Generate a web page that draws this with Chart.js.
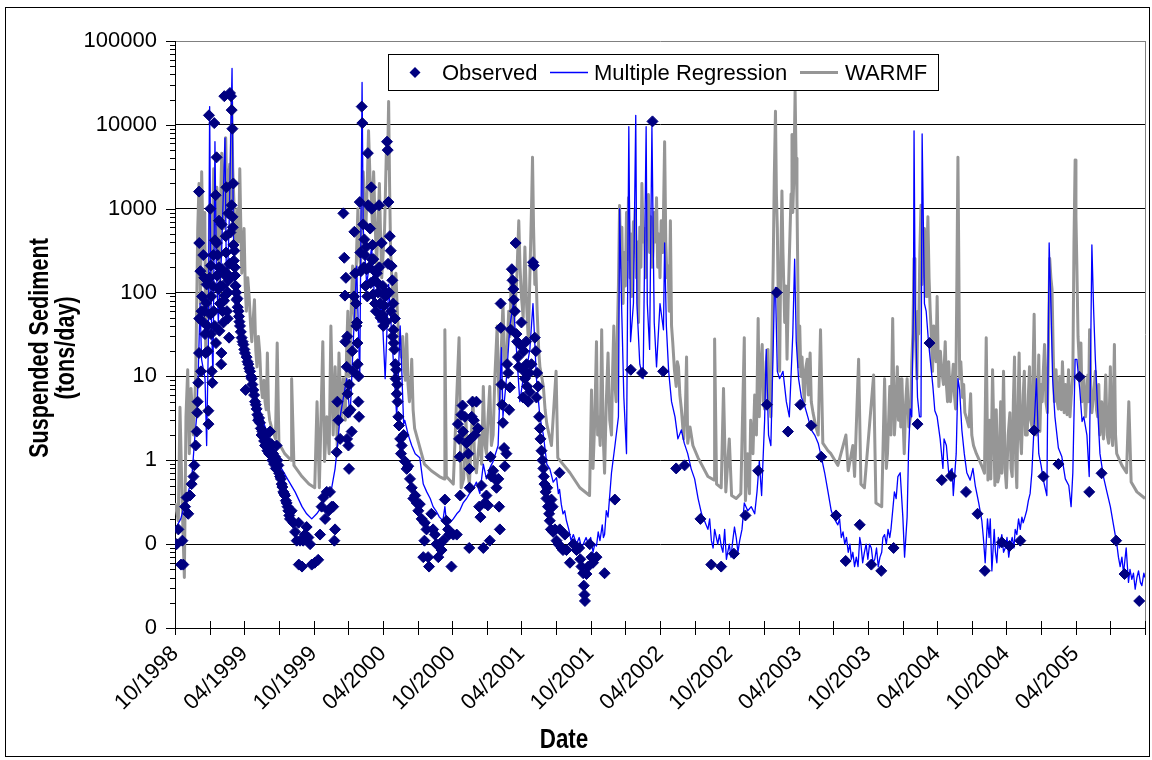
<!DOCTYPE html>
<html>
<head>
<meta charset="utf-8">
<script src="https://cdn.jsdelivr.net/npm/chart.js@4.4.0/dist/chart.umd.min.js"></script>
<style>
  html, body { margin: 0; padding: 0; background: #fff; }
  #wrap { width: 1152px; height: 760px; }
</style>
</head>
<body>
<div id="wrap"><canvas id="chartSed" width="1152" height="760"></canvas></div>
<script>
// x = months since 10/1998, y = suspended sediment (tons/day)
const observed = [
  [0.14,0.1],[0.29,0.15],[0.52,0.057],[0.64,0.11],[0.72,0.057],[0.87,0.28],[1.0,0.36],[1.15,0.23],[1.3,0.38],[1.44,0.52],
  [1.6,0.64],[1.67,0.87],[1.79,1.5],[1.88,2.2],[1.93,3.7],[1.96,5],[2.02,8.4],[2.08,19],[2.1,49],[2.08,1600],[2.1,390],
  [2.2,180],[2.25,11.5],[2.3,60],[2.35,90],[2.4,45],[2.45,280],[2.54,150],[2.55,60],[2.6,32],[2.66,19],[2.7,75],[2.74,125],
  [2.8,40],[2.85,20],[2.89,3.9],[2.9,2.7],[2.94,13000],[3.0,150],[3.05,55],[3.06,1000],[3.1,210],[3.12,32],[3.15,90],
  [3.18,11.5],[3.23,8.4],[3.28,120],[3.32,280],[3.35,60],[3.4,10500],[3.45,40],[3.46,420],[3.52,1450],[3.55,25],[3.6,4100],
  [3.62,390],[3.65,160],[3.7,280],[3.75,110],[3.8,200],[3.81,720],[3.85,35],[3.9,74],[3.95,120],[4.0,14],[4.02,19],[4.04,650],
  [4.1,190],[4.12,60],[4.15,120],[4.19,44],[4.25,80],[4.27,22000],[4.33,92],[4.35,160],[4.39,470],[4.42,300],[4.45,1800],
  [4.47,170],[4.5,60],[4.56,49],[4.58,100],[4.62,880],[4.65,140],[4.68,29],[4.72,220],[4.76,24000],[4.8,520],[4.85,22000],
  [4.9,1100],[4.91,15000],[4.97,9000],[4.98,800],[5.0,600],[5.05,2000],[5.06,370],[5.1,240],[5.14,316],[5.18,200],[5.2,160],
  [5.25,120],[5.3,100],[5.34,82],[5.4,85],[5.43,67],[5.5,60],[5.54,52],[5.58,45],[5.63,40],[5.7,34],[5.77,29],[5.85,26],
  [5.92,24],[6.0,21],[6.06,19],[6.12,6.9],[6.2,17],[6.28,15],[6.35,14],[6.42,12.5],[6.5,11.5],[6.57,10],[6.64,9.4],[6.7,8],
  [6.78,6.9],[6.85,6],[6.93,5],[7.0,4.6],[7.07,4.1],[7.14,3.5],[7.2,3],[7.28,3.2],[7.36,2.8],[7.43,2.4],[7.5,2],[7.57,2.2],
  [7.65,1.9],[7.72,1.7],[7.8,1.5],[7.87,1.8],[7.94,1.6],[8.0,1.3],[8.08,1.4],[8.15,1.2],[8.23,2.2],[8.3,1.3],[8.37,1.55],
  [8.43,1.0],[8.5,1.2],[8.58,0.9],[8.66,1.1],[8.73,0.8],[8.8,1.5],[8.87,1.0],[8.95,0.87],[9.02,0.7],[9.1,0.64],[9.17,0.6],
  [9.24,0.52],[9.3,0.48],[9.38,0.42],[9.45,0.4],[9.53,0.38],[9.6,0.33],[9.67,0.31],[9.75,0.28],[9.82,0.25],[9.9,0.22],
  [9.96,0.2],[10.1,0.25],[10.25,0.18],[10.4,0.14],[10.54,0.11],[10.7,0.18],[10.72,0.057],[10.83,0.11],[11.0,0.054],[11.1,0.11],
  [11.25,0.13],[11.4,0.16],[11.55,0.12],[11.7,0.1],[11.84,0.057],[12.1,0.06],[12.4,0.065],[12.56,0.13],[12.7,0.28],[12.85,0.36],
  [13.0,0.2],[13.14,0.42],[13.3,0.25],[13.42,0.42],[13.57,0.28],[13.7,0.28],[13.8,0.11],[13.86,0.15],[14.0,1.25],[14.06,5],
  [14.15,3],[14.3,1.8],[14.58,880],[14.66,260],[14.72,92],[14.75,26],[14.8,150],[14.87,13],[14.9,1.8],[14.92,30],[14.95,6.2],
  [15.0,3.7],[15.02,1.5],[15.07,0.79],[15.1,8],[15.2,4],[15.3,2.2],[15.35,20],[15.44,11.5],[15.5,90],[15.53,530],[15.6,170],
  [15.68,74],[15.7,40],[15.76,44],[15.8,25],[15.82,14],[15.88,5],[15.9,10],[15.94,3.3],[16.0,1200],[16.05,300],[16.1,180],
  [16.17,16500],[16.22,10500],[16.3,650],[16.35,200],[16.4,430],[16.45,280],[16.5,120],[16.55,350],[16.6,190],[16.65,90],
  [16.7,4600],[16.74,1100],[16.8,200],[16.9,580],[16.95,130],[17.0,1800],[17.03,1000],[17.05,250],[17.1,370],[17.15,95],
  [17.18,250],[17.26,140],[17.3,180],[17.32,74],[17.4,60],[17.47,170],[17.55,130],[17.6,100],[17.67,1100],[17.7,200],
  [17.75,74],[17.8,50],[17.9,390],[17.96,54],[18.0,120],[18.04,40],[18.1,70],[18.2,90],[18.25,100],[18.3,45],[18.36,6300],
  [18.42,5000],[18.45,220],[18.48,1200],[18.55,100],[18.6,470],[18.68,316],[18.7,60],[18.76,207],[18.82,140],[18.85,30],
  [18.9,74],[18.92,36],[18.95,25],[19.0,21],[19.05,49],[19.08,14],[19.1,9.4],[19.15,12],[19.2,6.2],[19.25,8],[19.28,5],
  [19.34,3.3],[19.4,2.6],[19.5,1.8],[19.57,1.2],[19.63,1.5],[19.8,2],[19.92,0.97],[20.06,0.79],[20.2,0.85],[20.35,0.6],
  [20.5,0.47],[20.64,0.35],[20.8,0.38],[20.93,0.31],[21.07,0.25],[21.2,0.3],[21.36,0.2],[21.5,0.07],[21.6,0.11],
  [21.63,0.18],[21.78,0.15],[21.92,0.07],[22.0,0.054],[22.2,0.23],[22.35,0.15],[22.5,0.13],[22.64,0.1],[22.8,0.07],[22.93,0.1],
  [23.08,0.085],[23.22,0.11],[23.37,0.34],[23.5,0.19],[23.65,0.15],[23.74,0.13],[23.94,0.054],[24.1,0.13],[24.4,0.13],[24.5,2.7],
  [24.6,1.8],[24.66,1.1],[24.7,0.38],[24.8,3.5],[24.9,4.5],[24.95,2.2],[25.1,3.3],[25.24,1.6],[25.4,1.2],[25.48,0.09],[25.5,0.79],
  [25.52,0.47],[25.6,1.8],[25.7,3.3],[25.76,5],[25.88,3],[25.96,2],[26.1,5],[26.25,2.4],[26.34,0.28],[26.45,0.21],[26.54,0.5],
  [26.7,0.09],[26.83,0.31],[26.97,0.38],[27.1,0.29],[27.26,0.11],[27.32,1.1],[27.4,0.64],[27.55,0.75],[27.7,0.6],[27.84,0.47],
  [28.0,0.6],[28.07,0.28],[28.13,0.15],[28.2,74],[28.21,38],[28.27,8],[28.33,4.6],[28.4,2.8],[28.5,1.4],[28.56,0.85],[28.7,1.2],
  [28.76,14],[28.85,11],[28.94,4],[29.0,7.4],[29.08,36],[29.17,190],[29.23,140],[29.3,110],[29.34,82],[29.43,60],[29.5,390],
  [29.57,32],[29.63,26],[29.7,17],[29.77,13],[29.86,24],[30.0,44],[30.1,12],[30.15,5.6],[30.2,20],[30.3,9.4],[30.4,26],
  [30.44,14],[30.5,7.6],[30.58,5],[30.67,11],[30.73,6.5],[30.87,14],[31.0,230],[31.07,210],[31.16,29],[31.25,20],[31.3,5.6],
  [31.36,11],[31.45,7.6],[31.53,3.3],[31.6,2.4],[31.65,1.8],[31.74,1.3],[31.82,1.0],[31.9,0.8],[31.94,0.64],[32.0,0.52],
  [32.1,0.42],[32.17,0.35],[32.23,0.47],[32.3,0.28],[32.4,0.23],[32.46,0.19],[32.55,0.15],[32.6,0.34],[32.7,0.28],[32.75,0.14],
  [32.9,0.15],[33.04,0.11],[33.2,0.1],[33.3,0.71],[33.32,0.15],[33.47,0.09],[33.6,0.085],[33.76,0.13],[33.9,0.085],[34.2,0.06],
  [34.5,0.1],[34.77,0.085],[35.0,0.09],[35.1,0.066],[35.2,0.054],[35.35,0.045],[35.4,0.032],[35.46,0.025],[35.5,0.021],
  [35.63,0.044],[35.78,0.054],[35.92,0.1],[36.07,0.07],[36.2,0.06],[36.5,0.07],[37.2,0.045],[38.09,0.34],[39.47,12],[40.45,11],
  [41.35,11000],[42.27,11.5],[43.4,0.8],[44.13,0.87],[45.5,0.2],[46.44,0.057],[47.3,0.054],[48.4,0.077],[49.4,0.22],[50.5,0.75],
  [51.26,4.6],[52.1,100],[53.08,2.2],[54.15,4.6],[55.1,2.6],[55.97,1.1],[57.24,0.22],[58.08,0.063],[59.3,0.17],[60.3,0.057],
  [61.16,0.048],[62.23,0.09],[64.3,2.7],[65.34,25],[66.4,0.58],[67.2,0.65],[68.5,0.42],[69.5,0.23],[70.13,0.048],[71.6,0.105],
  [72.27,0.095],[73.2,0.11],[74.4,2.26],[75.2,0.64],[76.5,0.9],[78.33,9.9],[79.17,0.42],[80.24,0.7],[81.5,0.11],[82.23,0.044],
  [83.5,0.021]
];

const regression = [
  [0,0.15],[0.5,0.2],[0.87,0.31],[1.44,0.58],[1.73,2],[1.88,3.3],[2.0,9.4],[2.17,74],[2.3,16],[2.6,9.4],[2.74,1.5],[2.89,26],
  [3.0,16500],[3.12,74],[3.29,9.4],[3.46,6300],[3.58,207],[3.75,44],[4.04,316],[4.33,7000],[4.47,74],[4.68,580],[4.94,47000],
  [5.05,580],[5.2,74],[5.49,54],[5.77,32],[6.2,19],[6.64,11.5],[7.07,5.6],[7.5,3.3],[7.94,2.2],[8.37,1.5],[8.8,1.07],[9.24,0.79],
  [9.8,0.58],[10.4,0.42],[11.0,0.28],[11.4,0.23],[11.84,0.2],[12.27,0.23],[12.7,0.28],[13.1,0.38],[13.57,0.47],[13.86,0.79],
  [14.0,1.2],[14.3,3.3],[14.58,5.6],[14.87,9.4],[15.16,3.3],[15.44,26],[15.73,207],[16.0,9.4],[16.2,32000],[16.3,580],[16.6,125],
  [17.03,350],[17.3,74],[17.6,44],[17.9,74],[18.2,9.4],[18.5,125],[18.9,16],[19.2,3.3],[19.5,40],[19.8,2.7],[19.9,3],[20.2,2],
  [20.5,1.5],[20.8,1.2],[21.2,1.07],[21.5,0.52],[21.8,0.42],[22.1,0.35],[22.35,0.28],[22.6,0.25],[22.9,0.21],[23.2,0.19],
  [23.37,0.28],[23.5,0.19],[23.8,0.18],[24.1,0.2],[24.4,0.23],[24.65,0.25],[24.95,0.31],[25.25,0.35],[25.5,0.4],[25.8,0.45],
  [26.1,0.55],[26.4,0.4],[26.7,0.9],[26.97,0.6],[27.25,0.8],[27.55,0.97],[27.98,1.5],[28.27,22],[28.4,3.3],[28.7,9.4],[29.0,40],
  [29.3,74],[29.57,21],[29.86,5],[30.15,9.4],[30.44,12],[30.73,21],[31.0,74],[31.3,9.4],[31.6,3.3],[31.9,2],[32.2,0.9],
  [32.46,0.79],[32.75,0.55],[33.04,0.62],[33.2,0.4],[33.3,0.45],[33.45,0.3],[33.6,0.23],[33.75,0.25],[33.9,0.19],[34.1,0.15],
  [34.3,0.11],[34.5,0.13],[34.77,0.1],[35.0,0.12],[35.2,0.09],[35.35,0.1],[35.6,0.12],[35.8,0.1],[36.0,0.12],[36.2,0.08],
  [36.35,0.1],[36.5,0.095],[36.65,0.14],[36.8,0.11],[37.0,0.17],[37.1,0.12],[37.2,0.13],[37.35,0.25],[37.5,0.21],[37.8,0.71],
  [38.1,1.5],[38.4,3.3],[38.5,1000],[38.67,74],[38.87,5.6],[39.1,1.2],[39.3,9500],[39.45,26],[39.7,74],[39.9,13000],[40.0,74],
  [40.25,14],[40.54,9.4],[40.8,9500],[40.9,74],[41.1,21],[41.3,9500],[41.5,44],[41.7,13],[42.0,74],[42.3,36],[42.4,390],
  [42.55,40],[42.75,11.5],[43.0,5],[43.3,3.3],[43.55,1.8],[43.85,2.3],[44.1,1.6],[44.4,1.2],[44.7,0.79],[45.0,0.6],[45.3,0.35],
  [45.6,0.23],[45.85,0.19],[46.15,0.15],[46.3,0.2],[46.45,0.11],[46.6,0.09],[46.73,0.15],[47.0,0.1],[47.15,0.13],[47.3,0.095],
  [47.45,0.08],[47.6,0.15],[47.75,0.066],[48.0,0.1],[48.15,0.07],[48.3,0.11],[48.45,0.16],[48.6,0.12],[48.75,0.08],[48.9,0.11],
  [49.1,0.15],[49.3,0.31],[49.6,0.25],[49.9,0.28],[50.2,0.23],[50.4,0.42],[50.6,0.97],[50.8,0.38],[51.06,3],[51.2,21],[51.4,2],
  [51.6,1.5],[51.8,21],[51.9,90],[52.0,115],[52.16,11.5],[52.36,9.4],[52.65,11.5],[52.94,5],[53.2,3.3],[53.5,32],[53.66,250],
  [53.8,26],[54.0,9.4],[54.25,5.6],[54.5,4.6],[54.8,3.3],[55.1,2.3],[55.4,2],[55.7,1.6],[55.97,1.1],[56.26,0.71],[56.55,0.42],
  [56.83,0.25],[57.1,0.2],[57.4,0.17],[57.55,0.2],[57.7,0.12],[57.85,0.14],[58.0,0.1],[58.15,0.12],[58.3,0.08],[58.45,0.1],
  [58.57,0.066],[58.7,0.08],[58.85,0.054],[59.0,0.07],[59.15,0.054],[59.3,0.12],[59.4,0.1],[59.55,0.06],[59.7,0.08],[59.85,0.1],
  [60.0,0.066],[60.15,0.1],[60.3,0.09],[60.45,0.06],[60.6,0.066],[60.75,0.09],[60.9,0.054],[61.05,0.07],[61.2,0.08],[61.3,0.12],
  [61.45,0.13],[61.6,0.1],[61.75,0.15],[61.9,0.12],[62.0,0.15],[62.15,0.25],[62.3,0.42],[62.45,0.35],[62.6,0.64],[62.8,0.71],
  [63.03,0.21],[63.18,0.07],[63.4,0.21],[63.52,1.2],[63.67,4.1],[63.8,3.3],[63.95,74],[64.0,8500],[64.1,74],[64.3,5.6],
  [64.47,3.3],[64.6,3.3],[64.7,7800],[64.9,74],[65.05,60],[65.25,26],[65.4,16],[65.63,7.6],[65.8,3.9],[66.0,3.3],[66.26,1.8],
  [66.5,0.8],[66.6,1.8],[66.8,1.5],[67.0,0.71],[67.3,0.8],[67.4,0.38],[67.65,1.2],[67.8,9.4],[67.95,6.9],[68.14,2.3],[68.35,1.2],
  [68.57,0.71],[68.86,0.58],[69.1,0.8],[69.3,0.5],[69.6,0.31],[69.87,0.19],[70.0,0.12],[70.16,0.06],[70.36,0.2],[70.5,0.12],
  [70.6,0.2],[70.74,0.048],[70.94,0.15],[71.05,0.08],[71.17,0.06],[71.3,0.12],[71.4,0.09],[71.6,0.13],[71.75,0.08],[71.9,0.09],
  [72.05,0.12],[72.2,0.07],[72.35,0.1],[72.5,0.12],[72.65,0.09],[72.76,0.15],[72.9,0.13],[73.05,0.2],[73.2,0.15],[73.34,0.21],
  [73.45,0.18],[73.6,0.21],[73.75,0.25],[73.9,0.33],[74.05,0.4],[74.2,0.71],[74.4,2.6],[74.6,9.4],[74.8,1.2],[75.0,0.87],
  [75.2,0.58],[75.5,0.38],[75.7,390],[75.85,74],[76.0,9.4],[76.2,3.3],[76.5,1.4],[76.8,1.1],[77.1,0.6],[77.4,0.5],[77.6,0.28],
  [77.75,0.71],[77.95,16],[78.1,16],[78.35,7],[78.55,2.9],[78.7,3.3],[78.97,2],[79.17,0.64],[79.4,370],[79.55,63],[79.7,16],
  [79.9,4.1],[80.1,1.2],[80.4,0.64],[80.7,0.42],[81.0,0.28],[81.27,0.17],[81.56,0.1],[81.7,0.07],[81.85,0.054],[82.0,0.07],
  [82.14,0.045],[82.37,0.09],[82.57,0.035],[82.7,0.05],[82.86,0.038],[83.0,0.045],[83.15,0.029],[83.3,0.04],[83.44,0.048],
  [83.6,0.035],[83.73,0.032],[83.9,0.045],[84,0.04]
];

const warmf = [
  [0,0.31],[0.29,0.19],[0.43,4.3],[0.64,0.25],[0.81,0.04],[0.95,3.3],[1.1,12],[1.24,1.2],[1.39,7.2],[1.59,2],[1.79,9.4],
  [1.97,580],[2.08,2000],[2.2,74],[2.31,2750],[2.4,600],[2.49,316],[2.58,900],[2.66,21],[2.75,150],[2.83,207],[2.92,60],
  [3.0,1000],[3.09,400],[3.18,170],[3.27,800],[3.35,3000],[3.44,900],[3.53,316],[3.62,1800],[3.7,1200],[3.78,300],[3.87,74],
  [3.96,1500],[4.05,4600],[4.14,1200],[4.22,580],[4.3,2000],[4.39,7000],[4.48,1500],[4.57,800],[4.66,2500],[4.74,3400],
  [4.83,1000],[4.91,19000],[5.0,3000],[5.09,1350],[5.18,600],[5.26,316],[5.35,700],[5.43,1000],[5.52,400],[5.61,3000],
  [5.7,600],[5.78,170],[5.88,300],[5.98,580],[6.08,120],[6.18,60],[6.3,150],[6.42,90],[6.55,40],[6.65,26],[6.78,50],[6.88,82],
  [7.0,20],[7.1,13],[7.22,30],[7.34,19],[7.45,8],[7.57,5.6],[7.7,9],[7.8,5],[7.9,4],[8.0,19],[8.1,4],[8.2,3],[8.35,2.5],
  [8.5,2.2],[8.7,1.8],[8.85,25],[9.0,1.6],[9.5,1.2],[10.05,1.0],[10.1,9.4],[10.3,0.87],[11.0,0.64],[11.6,0.52],[12.1,0.47],
  [12.3,5],[12.5,0.47],[12.8,26],[12.95,0.97],[13.15,3.3],[13.35,1.2],[13.5,40],[13.7,2],[13.87,13],[14.05,1.5],[14.2,19],
  [14.4,3.3],[14.57,9.4],[14.74,3],[14.86,20],[14.97,60],[15.07,10],[15.17,17],[15.28,80],[15.38,207],[15.5,60],[15.6,40],
  [15.72,300],[15.84,1000],[15.95,300],[16.07,207],[16.18,900],[16.3,2750],[16.42,900],[16.53,580],[16.65,2000],[16.76,8500],
  [16.88,2500],[17.0,1350],[17.1,600],[17.2,2750],[17.33,700],[17.46,207],[17.58,600],[17.7,2000],[17.8,500],[17.9,150],
  [18.03,300],[18.15,580],[18.22,1500],[18.3,4600],[18.4,3000],[18.5,19000],[18.58,2000],[18.67,316],[18.78,150],[18.9,74],
  [19.0,120],[19.13,170],[19.25,60],[19.36,32],[19.48,25],[19.6,17],[19.72,30],[19.83,13],[19.95,9],[20.06,32],[20.18,8],
  [20.3,5],[20.4,7],[20.5,16],[20.62,4],[20.75,2.4],[21.1,1.6],[21.6,0.9],[22.2,0.75],[22.9,0.64],[23.3,0.6],[23.37,36],
  [23.5,0.64],[24.1,0.52],[24.6,29],[24.78,0.47],[25.0,0.6],[25.2,3],[25.35,0.7],[25.5,0.52],[25.8,5.6],[25.95,0.9],[26.1,0.71],
  [26.4,2],[26.55,0.9],[26.7,7.6],[26.85,1.5],[26.97,1.2],[27.1,3],[27.26,7.6],[27.4,1.5],[27.55,2],[27.7,10],[27.9,40],[28.0,8],
  [28.1,4.1],[28.25,20],[28.4,74],[28.55,15],[28.76,21],[28.9,60],[29.0,30],[29.14,207],[29.3,40],[29.43,60],[29.6,150],
  [29.77,720],[29.88,200],[30.0,90],[30.15,50],[30.3,350],[30.45,70],[30.6,26],[30.75,200],[30.9,1500],[30.96,4100],[31.05,600],
  [31.16,125],[31.25,200],[31.36,60],[31.5,20],[31.6,13],[31.75,10],[31.9,7.6],[32.05,4],[32.2,2.7],[32.4,2],[32.6,1.5],
  [33.0,11.5],[33.15,1.07],[34.2,0.71],[35.06,0.47],[35.9,0.38],[36.07,6.9],[36.2,0.8],[36.35,3],[36.5,26],[36.6,2],[36.7,3.3],
  [36.82,1.5],[36.95,36],[37.08,2],[37.2,0.7],[37.35,5],[37.5,19],[37.65,3],[37.8,2],[37.9,12],[38.0,40],[38.1,8],[38.2,5],
  [38.3,30],[38.4,120],[38.5,1090],[38.6,200],[38.7,600],[38.8,74],[38.9,300],[39.0,120],[39.1,900],[39.2,250],[39.27,1350],
  [39.4,150],[39.5,500],[39.56,90],[39.7,700],[39.78,300],[39.85,1000],[39.95,150],[40.05,400],[40.14,44],[40.25,600],[40.35,200],
  [40.43,2000],[40.55,400],[40.65,580],[40.75,150],[40.88,1000],[41.0,1480],[41.1,300],[41.2,800],[41.3,200],[41.4,316],
  [41.5,900],[41.6,400],[41.7,1350],[41.8,200],[41.9,500],[42.0,150],[42.1,720],[42.25,300],[42.4,6300],[42.5,400],[42.6,150],
  [42.7,207],[42.8,60],[42.9,720],[43.0,40],[43.1,26],[43.25,12],[43.4,7.6],[43.5,15],[43.6,13],[43.72,6],[43.85,4.1],[44.05,1.8],
  [44.2,4],[44.3,17],[44.4,1.6],[44.6,2.5],[44.85,1.5],[45.3,1.07],[46.15,0.64],[46.7,0.58],[46.73,28],[46.9,0.52],[47.3,0.47],
  [47.5,7.2],[47.7,0.42],[48.0,1.8],[48.2,0.38],[48.6,0.35],[49.0,0.4],[49.3,29],[49.4,0.33],[49.6,1.2],[49.75,0.4],[49.85,3],
  [50.05,1.2],[50.2,6],[50.35,2],[50.5,49],[50.6,3.3],[50.7,12],[50.85,24],[50.95,5],[51.06,4.1],[51.2,15],[51.35,21],[51.45,6],
  [51.6,3.3],[51.7,30],[51.8,200],[51.9,2500],[52.0,14500],[52.08,1500],[52.16,580],[52.25,60],[52.36,11.5],[52.45,200],
  [52.56,1630],[52.65,300],[52.8,44],[52.9,120],[53.0,16],[53.1,80],[53.25,470],[53.35,1500],[53.43,7700],[53.5,900],[53.6,2750],
  [53.7,25000],[53.78,4000],[53.86,1350],[53.95,100],[54.0,13],[54.1,40],[54.2,10],[54.3,17],[54.4,8],[54.5,5],[54.6,12],
  [54.75,16],[54.85,6],[55.0,19],[55.1,5],[55.25,3.7],[55.5,2.5],[55.7,2],[55.9,36],[56.1,1.6],[56.55,1.3],[56.8,1.2],[57.4,0.87],
  [58.1,2],[58.3,0.75],[58.7,1.5],[58.85,0.64],[59.2,16],[59.4,0.52],[59.7,0.47],[60.5,10.4],[60.7,0.31],[61.2,0.28],[61.45,9.4],
  [61.6,0.8],[61.7,1.2],[61.8,3],[61.9,7.6],[62.0,2],[62.15,49],[62.3,2],[62.45,5],[62.55,13],[62.65,3],[62.75,9.4],[62.85,2.5],
  [62.95,9.4],[63.05,3],[63.15,1.2],[63.28,5],[63.4,9.4],[63.55,2.5],[63.7,3.3],[63.8,15],[63.9,32],[64.0,255],[64.08,60],
  [64.17,20],[64.25,9.4],[64.33,60],[64.4,32],[64.5,300],[64.6,1100],[64.7,125],[64.8,400],[64.9,580],[64.98,150],[65.05,90],
  [65.12,300],[65.2,800],[65.3,150],[65.4,60],[65.5,30],[65.6,11.5],[65.7,40],[65.8,29],[65.9,15],[66.0,90],[66.08,20],
  [66.15,7.6],[66.28,20],[66.4,11.5],[66.55,8],[66.7,26],[66.8,8],[66.9,5],[67.0,15],[67.15,5],[67.28,8],[67.4,14],[67.5,6],
  [67.6,4.1],[67.7,100],[67.8,4100],[67.88,200],[67.95,9.4],[68.05,15],[68.2,5.6],[68.3,8],[68.4,3.7],[68.6,3],[68.75,2.5],
  [68.9,6.2],[69.0,2],[69.15,1.5],[69.4,1.2],[69.7,0.97],[69.95,0.8],[70.1,0.7],[70.25,29],[70.4,0.58],[70.55,3],[70.65,0.6],
  [70.8,12],[71.0,0.5],[71.12,4],[71.25,0.55],[71.35,0.64],[71.5,5],[71.6,0.7],[71.75,11.5],[71.88,0.8],[72.0,0.47],[72.15,2],
  [72.3,3.7],[72.4,0.8],[72.5,0.64],[72.6,5],[72.7,17],[72.8,1],[72.9,0.47],[73.0,4],[73.1,19],[73.2,2],[73.3,1.2],[73.45,6],
  [73.55,11.5],[73.65,2],[73.8,2],[73.9,6],[74.0,13],[74.1,3],[74.25,2.4],[74.32,15],[74.4,55],[74.5,5],[74.6,2],[74.72,6],
  [74.8,18],[74.9,2.2],[75.0,8],[75.1,5],[75.2,12],[75.3,24],[75.42,5],[75.55,3.7],[75.65,30],[75.75,255],[75.85,150],[75.95,110],
  [76.05,20],[76.15,5],[76.3,12],[76.4,5],[76.5,4.1],[76.62,10],[76.75,4],[76.85,15],[77.0,3.7],[77.12,8],[77.25,3.5],[77.38,12],
  [77.5,3.3],[77.62,6],[77.75,10.4],[77.85,400],[77.95,3800],[78.02,800],[78.1,207],[78.2,30],[78.35,11.5],[78.45,25],[78.55,5],
  [78.7,10],[78.85,3.3],[78.95,6],[79.05,10.4],[79.12,5],[79.2,36],[79.3,8],[79.4,3.7],[79.55,6],[79.7,11.5],[79.8,4],[79.9,3.3],
  [80.0,8],[80.1,2],[80.25,5],[80.4,1.8],[80.5,4],[80.6,10.4],[80.72,2],[80.85,1.6],[81.0,13],[81.1,2],[81.2,1.5],[81.35,24],
  [81.45,2],[81.55,1.2],[82.0,0.87],[82.4,0.71],[82.6,5],[82.8,0.55],[83.3,0.42],[83.9,0.36],[84,0.35]
];

const yTicks = [0.01, 0.1, 1, 10, 100, 1000, 10000, 100000];
const xLabelMonths = [0, 6, 12, 18, 24, 30, 36, 42, 48, 54, 60, 66, 72, 78];
const seriesNames = ['Observed', 'Multiple Regression', 'WARMF'];

const TEXT_FONT = '"Liberation Sans", Arial, sans-serif';

function monthLabel(t) {
    const m = (9 + t) % 12 + 1;
    const y = 1998 + Math.floor((9 + t) / 12);
    return String(m).padStart(2, '0') + '/' + y;
}

function toXY(list) {
    return list.map(p => ({ x: p[0], y: p[1] }));
}

// condensed bold title text (squeezed along its own baseline)
function narrowText(ctx, text, x, y, angle) {
    ctx.save();
    ctx.translate(x, y);
    ctx.rotate(angle);
    ctx.scale(0.8, 1);
    ctx.fillText(text, 0, 0);
    ctx.restore();
}

// ticks, axis titles, plot frame and the legend box
const decorations = {
    id: 'decorations',
    beforeDraw(chart) {
        const ctx = chart.ctx;
        ctx.save();
        ctx.fillStyle = '#fff';
        ctx.fillRect(0, 0, chart.width, chart.height);
        ctx.restore();
    },
    afterDraw(chart) {
        const ctx = chart.ctx;
        const xs = chart.scales.x;
        const ys = chart.scales.y;
        const area = chart.chartArea;
        ctx.save();

        // outer frame
        ctx.strokeStyle = '#000';
        ctx.lineWidth = 1;
        ctx.strokeRect(5.5, 7.5, 1144, 749);

        // right edge of the plot area
        ctx.strokeStyle = '#808080';
        ctx.beginPath();
        ctx.moveTo(Math.round(area.right) + 0.5, area.top);
        ctx.lineTo(Math.round(area.right) + 0.5, area.bottom);
        ctx.stroke();

        // y ticks: decades long, 2..9 short
        ctx.strokeStyle = '#000';
        ctx.beginPath();
        for (let d = 0; d < yTicks.length; d++) {
            const py = Math.round(ys.getPixelForValue(yTicks[d])) + 0.5;
            ctx.moveTo(area.left - 9, py);
            ctx.lineTo(area.left, py);
            if (d < yTicks.length - 1) {
                for (let k = 2; k <= 9; k++) {
                    const pm = Math.round(ys.getPixelForValue(yTicks[d] * k)) + 0.5;
                    ctx.moveTo(area.left - 5, pm);
                    ctx.lineTo(area.left, pm);
                }
            }
        }
        // x ticks every 3 months, crossing the axis
        for (let m = 0; m <= 84; m += 3) {
            const px = Math.round(xs.getPixelForValue(m)) + 0.5;
            ctx.moveTo(px, area.bottom - 7);
            ctx.lineTo(px, area.bottom + 7);
        }
        ctx.stroke();

        // axis titles
        ctx.fillStyle = '#000';
        ctx.textAlign = 'center';
        ctx.textBaseline = 'alphabetic';
        ctx.font = 'bold 28px ' + TEXT_FONT;
        narrowText(ctx, 'Date', 564, 748, 0);
        ctx.font = 'bold 27px ' + TEXT_FONT;
        narrowText(ctx, 'Suspended Sediment', 48, 348, -Math.PI / 2);
        narrowText(ctx, '(tons/day)', 74, 348, -Math.PI / 2);

        // legend
        const lx = 388.5, ly = 54.5, lw = 550, lh = 36, cy = 72.5;
        ctx.fillStyle = '#fff';
        ctx.fillRect(lx, ly, lw, lh);
        ctx.strokeStyle = '#000';
        ctx.lineWidth = 1;
        ctx.strokeRect(lx, ly, lw, lh);

        ctx.fillStyle = '#000080';
        ctx.beginPath();
        ctx.moveTo(415, cy - 5.5);
        ctx.lineTo(420.5, cy);
        ctx.lineTo(415, cy + 5.5);
        ctx.lineTo(409.5, cy);
        ctx.closePath();
        ctx.fill();

        ctx.lineWidth = 1.3;
        ctx.strokeStyle = '#0000ff';
        ctx.beginPath();
        ctx.moveTo(550, cy);
        ctx.lineTo(588, cy);
        ctx.stroke();

        ctx.lineWidth = 3;
        ctx.strokeStyle = '#969696';
        ctx.beginPath();
        ctx.moveTo(800, cy);
        ctx.lineTo(838, cy);
        ctx.stroke();

        ctx.fillStyle = '#000';
        ctx.font = '22px ' + TEXT_FONT;
        ctx.textAlign = 'left';
        ctx.textBaseline = 'middle';
        ctx.fillText(seriesNames[0], 442, cy + 1);
        ctx.fillText(seriesNames[1], 594, cy + 1);
        ctx.fillText(seriesNames[2], 845, cy + 1);

        ctx.restore();
    }
};

Chart.defaults.font.family = TEXT_FONT;
Chart.defaults.color = '#000';

const ctx = document.getElementById('chartSed').getContext('2d');
new Chart(ctx, {
    type: 'scatter',
    data: {
        datasets: [{
            label: seriesNames[0],
            data: toXY(observed),
            pointStyle: 'rectRot',
            pointRadius: 5.5,
            pointHoverRadius: 5.5,
            backgroundColor: '#000080',
            borderColor: '#000080',
            borderWidth: 1,
            showLine: false
        }, {
            label: seriesNames[1],
            data: toXY(regression),
            showLine: true,
            borderColor: '#0000ff',
            borderWidth: 1.3,
            borderJoinStyle: 'round',
            pointRadius: 0,
            pointHoverRadius: 0,
            tension: 0
        }, {
            label: seriesNames[2],
            data: toXY(warmf),
            showLine: true,
            borderColor: '#969696',
            borderWidth: 3,
            borderJoinStyle: 'round',
            pointRadius: 0,
            pointHoverRadius: 0,
            tension: 0
        }]
    },
    options: {
        responsive: false,
        animation: false,
        events: [],
        devicePixelRatio: 1,
        layout: { padding: { left: 0, top: 41, right: 7, bottom: 0 } },
        plugins: {
            legend: { display: false },
            tooltip: { enabled: false }
        },
        scales: {
            x: {
                type: 'linear',
                min: 0,
                max: 84,
                afterBuildTicks: (scale) => {
                    scale.ticks = xLabelMonths.map(v => ({ value: v }));
                },
                afterFit: (scale) => { scale.height = 132; },
                grid: { display: false, drawTicks: false },
                border: { display: true, color: '#000', width: 1 },
                ticks: {
                    autoSkip: false,
                    minRotation: 45,
                    maxRotation: 45,
                    padding: 13,
                    font: { size: 22 },
                    color: '#000',
                    callback: (v) => monthLabel(v)
                }
            },
            y: {
                type: 'logarithmic',
                min: 0.01,
                max: 100000,
                afterBuildTicks: (scale) => {
                    scale.ticks = yTicks.map(v => ({ value: v, major: true }));
                },
                afterFit: (scale) => { scale.width = 175; },
                grid: {
                    drawTicks: false,
                    lineWidth: 1,
                    color: (c) => (c.tick && c.tick.value === 100000) ? '#808080' : '#000'
                },
                border: { display: true, color: '#000', width: 1 },
                ticks: {
                    padding: 18,
                    font: { size: 22 },
                    color: '#000',
                    callback: (v) => v >= 1 ? String(v) : '0'
                }
            }
        }
    },
    plugins: [decorations]
});
</script>
</body>
</html>
